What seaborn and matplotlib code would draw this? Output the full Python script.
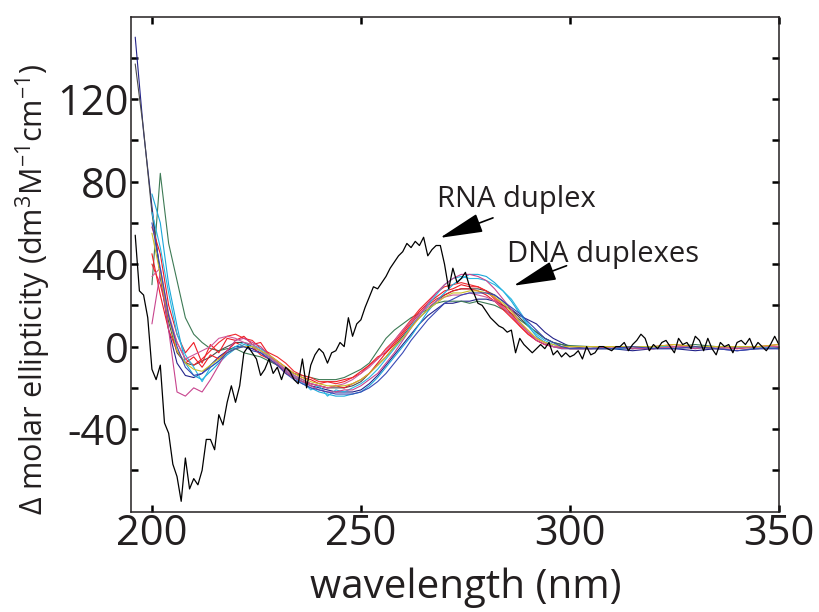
import numpy as np
import pandas as pd
import matplotlib
matplotlib.use("Agg")
import matplotlib.pyplot as plt
import seaborn as sns

# DNA duplex spectra: 2 nm steps up to 300 nm, then 5 nm steps
wl_dna = list(range(196, 301, 2)) + list(range(305, 351, 5))

navy = [150, 104, 68, 34, 8, -8, -14, -15, -13, -9, -5, -2, 0, 0, -1, -3, -6, -9, -12, -15,
        -17, -19, -20, -21, -22, -22, -22, -21, -18, -14, -9, -4, 1, 6, 11, 15, 18, 21, 21, 22,
        22, 23, 23, 22, 20, 18, 15, 13, 11, 7, 4, 2, 0,
        -1, -1, -2, -1, -1, -2, -1, -2, -1, -1]
gray = [137, 105, 65, 35, 12, -3, -8, -9, -7, -5, -2, 0, 2, 2, 0, -2, -5, -8, -11, -14,
        -16, -18, -19, -20, -20, -20, -19, -17, -13, -9, -5, 0, 5, 10, 14, 18, 22, 25, 27, 28,
        28, 28, 27, 25, 22, 18, 14, 10, 7, 4, 2, 1, 0,
        0, -1, 0, -1, 0, 0, -1, 0, 0, -1]
green = [np.nan, np.nan, 30, 84, 50, 32, 14, 6, 2, -1, -2, -1, -1, -3, -4, -5, -7, -9, -11, -13,
         -14, -15, -16, -16, -16, -15, -13, -11, -8, -2, 4, 8, 11, 14, 16, 18, 21, 22, 22, 22,
         21, 22, 21, 20, 18, 16, 13, 10, 7, 4, 2, 1, 0.5,
         0, 0, -1, 0, 0, 1, 0, 0, -1, 0]
red1 = [np.nan, np.nan, 58, 45, 20, 6, -3, 2, -8, 1, -3, 4, 3, 5, 1, 2, -4, -7, -10, -13,
        -15, -16, -18, -17, -17, -16, -15, -12, -9, -5, -3, 2, 7, 12, 17, 21, 24, 27, 28, 30,
        29, 29, 27, 24, 20, 16, 11, 7, 4, 2, 0, 0, -1,
        -1, 0, 0, -1, 0, 0, -1, 0, 0, 0]
red2 = [np.nan, np.nan, 45, 25, 8, -2, -8, -5, -10, -4, -6, -2, 2, 0, 0, -4, -6, -9, -13, -15,
        -17, -18, -19, -20, -19, -20, -18, -16, -13, -8, -3, 1, 6, 11, 16, 20, 23, 25, 27, 28,
        28, 27, 25, 22, 18, 14, 10, 6, 3, 1, 0, 0, 0,
        0, 0, -1, 0, 1, 0, 0, -1, 0, 1]
red3 = [np.nan, np.nan, 40, 30, 14, 2, -6, -9, -6, -2, 2, 5, 6, 4, 3, -1, -3, -5, -8, -12,
        -14, -15, -17, -17, -18, -17, -15, -13, -9, -6, -1, 3, 8, 13, 18, 22, 26, 29, 30, 31,
        30, 29, 27, 23, 19, 15, 10, 6, 3, 1, 0, -0.5, -1,
        -1, -1, 0, 0, -1, 0, 0, 0, -1, 0]
cyan1 = [np.nan, np.nan, 74, 60, 30, 10, -8, -14, -16, -12, -8, -4, -1, 1, 0, -2, -5, -8, -12, -15,
         -18, -20, -22, -23, -24, -24, -23, -22, -19, -15, -10, -5, 0, 5, 11, 17, 22, 26, 30, 33,
         35, 35, 34, 31, 27, 22, 16, 10, 5, 2, 0, -1, -1,
         -1, -1, -1, 0, -1, 0, -1, 0, 0, -1]
cyan2 = [np.nan, np.nan, 65, 48, 26, 6, -4, -10, -17, -10, -7, -3, 0, 2, 1, -1, -4, -8, -11, -14,
         -17, -21, -19, -24, -21, -22, -20, -18, -15, -11, -6, -1, 4, 10, 15, 20, 25, 30, 33, 34,
         33, 33, 32, 30, 27, 23, 17, 11, 6, 3, 1, 0, 0,
         0, -1, 0, 0, 0, -1, 0, 0, -1, 0]
magenta1 = [np.nan, np.nan, 11, 36, 8, -22, -24, -20, -22, -16, -9, -2, 3, 4, 2, 0, -4, -8, -12, -15,
            -17, -19, -21, -22, -22, -21, -21, -19, -16, -13, -8, -3, 3, 9, 15, 21, 26, 30, 33, 35,
            35, 34, 32, 28, 23, 18, 12, 7, 3, 1, 0, -1, -1,
            -1, 0, -1, -1, 0, -1, 0, -1, 0, 0]
magenta2 = [np.nan, np.nan, 34, 38, 16, 2, -6, -4, -2, 0, 4, 5, 4, 2, 1, -2, -5, -8, -11, -14,
            -16, -18, -19, -20, -19, -18, -16, -13, -10, -6, -2, 3, 8, 12, 16, 19, 22, 24, 25, 25,
            26, 25, 24, 22, 19, 15, 11, 7, 4, 2, 0, 0, 0,
            0, 0, 0, -1, 0, 0, -1, 0, 0, 0]
yellow = [np.nan, np.nan, 55, 35, 14, -2, -8, -11, -12, -9, -6, -3, -1, 0, 0, -2, -4, -7, -10, -13,
          -15, -17, -18, -19, -19, -19, -18, -16, -13, -9, -5, 0, 4, 9, 14, 18, 21, 24, 26, 26,
          27, 27, 26, 24, 21, 17, 12, 8, 4, 2, 1, 0, 0,
          0, 0, 0, 0, 1, 0, 0, 0, 0, 1]
blue2 = [np.nan, np.nan, 60, 38, 15, 0, -10, -14, -13, -10, -7, -3, -1, 0, -2, -3, -6, -9, -13, -16,
         -18, -20, -21, -22, -23, -23, -23, -22, -20, -17, -13, -8, -3, 3, 8, 13, 17, 21, 23, 25,
         26, 26, 26, 25, 22, 19, 16, 12, 8, 4, 2, 0, -1,
         -1, -1, 0, -1, -1, 0, -1, -2, -1, -1]

# RNA duplex spectrum, 1 nm steps
wl_rna = list(range(196, 351))
rna = [54, 27, 25, 14, -11, -16, -9, -37, -42, -57, -63, -75, -54, -69, -64, -67, -60, -45, -45, -50,
       -33, -38, -27, -19, -27, -19, -3, 0, -3, -6, -14, -11, -6, -13, -10, -16, -10, -12, -16, -18,
       -6, -20, -9, -4, -1, -3, -8, -3, -2, 2, 0, 14, 5, 11, 13, 19, 24, 29, 28, 31,
       34, 38, 41, 44, 46, 50, 48, 51, 49, 53, 44, 47, 49, 49, 40, 28, 38, 31, 33, 36,
       29, 26, 21, 20, 17, 14, 12, 10, 9, 7, 8, -3, 4, 1, -1, -3, -1, 1, -1, 2,
       -4, -2, -5, -3, -5, -4, -2, -6, 0, -4, -3, 0, 0, -1, -2, 0, 0, 2, -2, 1,
       3, 6, 4, -2, 1, -1, 2, 3, 0, -3, 4, 1, 2, -1, 5, 3, -2, 4, -1, -4,
       2, 0, 1, -3, 2, 3, 1, 4, -1, 2, 0, -2, 1, 5, 1]

dna_series = {
    "navy": navy, "gray": gray, "green": green, "red1": red1, "red2": red2, "red3": red3,
    "cyan1": cyan1, "cyan2": cyan2, "magenta1": magenta1, "magenta2": magenta2,
    "yellow": yellow, "blue2": blue2,
}
dna_colors = {
    "navy": "#23238a", "gray": "#4a4a4a", "green": "#3d7a55", "red1": "#ee1c25",
    "red2": "#ee1c25", "red3": "#f0282e", "cyan1": "#1aa7d9", "cyan2": "#28b8e3",
    "magenta1": "#c8448e", "magenta2": "#cf5a9c", "yellow": "#cbbf2a", "blue2": "#3949b5",
}

dna_df = pd.concat(
    [pd.DataFrame({"wavelength": wl_dna, "ellipticity": v, "sample": k}) for k, v in dna_series.items()],
    ignore_index=True,
)

sns.set_style("ticks")
plt.rcParams["font.family"] = ["Open Sans", "DejaVu Sans"]
plt.rcParams["mathtext.default"] = "regular"
plt.rcParams["axes.unicode_minus"] = False

fig = plt.figure(figsize=(8.19, 6.12), dpi=100)
ax = fig.add_axes([0.16, 0.164, 0.791, 0.809])

sns.lineplot(data=dna_df, x="wavelength", y="ellipticity", hue="sample", palette=dna_colors,
             estimator=None, linewidth=0.8, legend=False, ax=ax)
sns.lineplot(x=wl_rna, y=rna, color="black", linewidth=0.9, estimator=None, ax=ax)

ax.set_xlim(195, 350)
ax.set_ylim(-80, 160)
ax.set_xticks([200, 250, 300, 350])
ax.set_yticks([-40, 0, 40, 80, 120])
ax.set_yticks([-60, -20, 20, 60, 100, 140], minor=True)
ax.tick_params(which="both", direction="in", top=True, right=True, length=5, width=1.8,
               labelsize=30, color="black", labelcolor="#231f20")
ax.tick_params(axis="x", pad=1)
ax.tick_params(axis="y", pad=2)
for s in ax.spines.values():
    s.set_linewidth(1.1)
    s.set_color("#231f20")

ax.set_xlabel("wavelength (nm)", fontsize=29, color="#231f20")
ax.set_ylabel("Δ molar ellipticity (dm$^{3}$M$^{-1}$cm$^{-1}$)", fontsize=22, color="#231f20")
ax.xaxis.set_label_coords(0.517, -0.112)
ax.yaxis.set_label_coords(-0.12, 0.45)

arrow = dict(arrowstyle="-|>,head_length=1.35,head_width=0.3", color="black",
             lw=1.2, shrinkA=0, shrinkB=0, mutation_scale=20)
ax.annotate("", xy=(268.9, 52.7), xytext=(281.6, 62.4), arrowprops=arrow)
ax.annotate("", xy=(286.5, 29.5), xytext=(299.2, 39.2), arrowprops=arrow)
ax.text(287.3, 71.3, "RNA duplex", fontsize=21, ha="center", va="center", color="#231f20")
ax.text(307.9, 44.6, "DNA duplexes", fontsize=21, ha="center", va="center", color="#231f20")

fig.savefig("out.png", dpi=100)
